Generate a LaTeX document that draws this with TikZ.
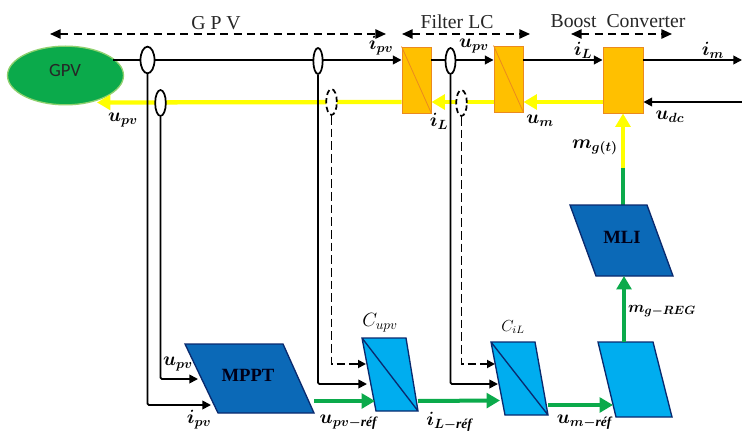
\documentclass[tikz,border=0pt]{standalone}
\usepackage{amsmath}
\usepackage{fontspec}
\setmainfont{Liberation Serif}
\newfontfamily\gpvfont{Carlito}
\usetikzlibrary{arrows.meta,shapes.geometric,calc}
\definecolor{orangeF}{HTML}{FFC000}
\definecolor{orangeD}{HTML}{EB8A1E}
\definecolor{blueD}{HTML}{0B69B7}
\definecolor{blueL}{HTML}{00ADEF}
\definecolor{navyE}{HTML}{0A2A6E}
\definecolor{greenF}{HTML}{0BAA4B}
\definecolor{greenL}{HTML}{8FD16F}
\definecolor{yellowF}{HTML}{FFFF00}
\newcommand{\refsub}{\textbf{\textit{réf}}}
\tikzset{
  orangebox/.style={draw=orangeD,fill=orangeF,line width=0.7pt,inner sep=0pt,minimum height=49.5pt},
  sensor/.style={ellipse,draw=black,fill=white,line width=1.3pt,inner sep=0pt,minimum width=8pt,minimum height=19.5pt},
  dashsensor/.style={sensor,dash pattern=on 4pt off 2.5pt},
  blk/.style={draw=black,line width=1.3pt,-{Triangle[length=6.5pt,width=6.5pt]}},
  blkdash/.style={draw=black,line width=1.4pt,dash pattern=on 6.5pt off 3pt,-{Triangle[length=6pt,width=6pt]}},
  span/.style={draw=black,line width=1.3pt,dash pattern=on 6pt off 4pt,{Triangle[length=8pt,width=7pt]}-{Triangle[length=8pt,width=7pt]}},
  yel/.style={draw=yellowF,line width=3.2pt,-{Triangle[length=10pt,width=11pt]}},
  grn/.style={draw=greenF,line width=3pt,-{Triangle[length=10pt,width=11pt]}},
  grnplain/.style={draw=greenF,line width=3pt},
  paraD/.style={draw=navyE,fill=blueD,line width=1pt,line join=miter},
  paraL/.style={draw=navyE,fill=blueL,line width=1pt,line join=miter},
  lab/.style={inner sep=0pt,font=\fontsize{14}{14}\selectfont\boldmath},
  reflab/.style={inner sep=0pt,font=\fontsize{14.5}{14.5}\selectfont\boldmath},
  title/.style={inner sep=0pt,font=\fontsize{14.8}{14.8}\selectfont,text=black!85},
  blocklab/.style={inner sep=0pt,font=\fontsize{14}{14}\selectfont\bfseries,text=black!90!blue},
}
\begin{document}
\begin{tikzpicture}[x=0.75pt,y=-0.75pt]
\useasboundingbox (0,0) rectangle (742,431);
\clip (0,0) rectangle (742,431);
% pins
\coordinate (topL) at (113,60);
\coordinate (topR) at (742,60);
\coordinate (busR) at (742,102);
\coordinate (yelEnd) at (97,102.5);
\coordinate (pinIpv) at (211,405);
\coordinate (pinUpv) at (198,379);
\coordinate (pinC1a) at (366,364);
\coordinate (pinC1b) at (367,384);
\coordinate (pinC2a) at (495,364);
\coordinate (pinC2b) at (498,384);
\coordinate (o1) at (314,401);
\coordinate (c1in) at (375,401);
\coordinate (c1out) at (418,401);
\coordinate (c2in) at (500,400.5);
\coordinate (c2out) at (548,405);
\coordinate (p3in) at (613,405);
\coordinate (p3top) at (624,342);
\coordinate (mliB) at (624,276);
\coordinate (mliT) at (623,205);
\coordinate (gy) at (623,168);
% GPV source
\node[ellipse,draw=greenL,fill=greenF,line width=1pt,inner sep=0pt,minimum width=87pt,minimum height=44pt] (gpv) at (65.5,75.5) {};
\node[inner sep=0pt,font=\gpvfont\fontsize{14}{14}\selectfont,text=black!85] (gpvt) at (65,71) {GPV};
% orange boxes
\node[orangebox,minimum width=21.75pt] (f1) at (416.5,80) {};
\node[orangebox,minimum width=21.75pt] (f2) at (508.5,79) {};
\node[orangebox,minimum width=30pt] (boost) at (623,80) {};
\draw[draw=orangeD,line width=0.6pt] (f1.north west) -- (f1.south east);
\draw[draw=orangeD,line width=0.6pt] (f2.north west) -- (f2.south east);
% yellow bus
\draw[yel] (boost.west |- 0,102) -- (f2.east |- 0,102);
\draw[yel] (f2.west |- 0,102) -- (f1.east |- 0,102);
\draw[yel] (f1.west |- 0,102) -- (yelEnd);
\draw[yel] (gy) -- (boost.south);
\draw[grnplain] (mliT) -- (gy);
% top power line
\draw[blk] (topL) -- (f1.west |- topL);
\draw[blk] (f1.east |- topL) -- (f2.west |- topL);
\draw[blk] (f2.east |- topL) -- (boost.west |- topL);
\draw[blk] (boost.east |- topL) -- (topR);
\draw[blk] (busR) -- (boost.east |- busR);
% sensors
\node[sensor,minimum width=10.5pt,minimum height=20pt] (s1) at (147.5,60) {};
\node[sensor] (s2) at (160.5,103) {};
\node[sensor,minimum width=7pt] (s3) at (318,61) {};
\node[dashsensor] (s4) at (331.5,102) {};
\node[sensor,minimum width=7.5pt] (s5) at (450.5,61) {};
\node[dashsensor] (s6) at (461.5,103) {};
% bottom blocks
\coordinate (mA) at (185,344); \coordinate (mB) at (283,344);
\coordinate (mC) at (314,413); \coordinate (mD) at (218,413);
\draw[paraD] (mA) -- (mB) -- (mC) -- (mD) -- cycle;
\node[blocklab] (mppt) at (248,375) {MPPT};
\coordinate (c1A) at (362,338); \coordinate (c1B) at (406,338);
\coordinate (c1C) at (418,411); \coordinate (c1D) at (376,411);
\draw[paraL] (c1A) -- (c1B) -- (c1C) -- (c1D) -- cycle (c1A) -- (c1C);
\coordinate (c2A) at (491,342); \coordinate (c2B) at (535,342);
\coordinate (c2C) at (548,415); \coordinate (c2D) at (505,415);
\draw[paraL] (c2A) -- (c2B) -- (c2C) -- (c2D) -- cycle (c2A) -- (c2C);
\coordinate (p3A) at (598,342); \coordinate (p3B) at (653,342);
\coordinate (p3C) at (672,417); \coordinate (p3D) at (616,417);
\draw[paraL] (p3A) -- (p3B) -- (p3C) -- (p3D) -- cycle;
\coordinate (lA) at (570,205); \coordinate (lB) at (647,205);
\coordinate (lC) at (673,276); \coordinate (lD) at (596,276);
\draw[paraD] (lA) -- (lB) -- (lC) -- (lD) -- cycle;
\node[blocklab] (mli) at (622,237) {MLI};
% sensor feeds
\draw[blk,rounded corners=1pt] (s1.south) |- (pinIpv);
\draw[blk,rounded corners=1pt] (s2.south) |- (pinUpv);
\draw[blk,rounded corners=1pt] (s3.south) |- (pinC1b);
\draw[blk,rounded corners=1pt] (s5.south) |- (pinC2b);
\draw[blkdash] (s4.south) |- (pinC1a);
\draw[blkdash] (s6.south) |- (pinC2a);
% green chain
\draw[grn] (o1) -- (c1in);
\draw[grn] (c1out) -- (c2in);
\draw[grn] (c2out) -- (p3in);
\draw[grn] (p3top) -- (mliB);
% span arrows
\coordinate (g1) at (50,34); \coordinate (g2) at (386,34);
\coordinate (f3) at (402,34); \coordinate (f4) at (530,34);
\coordinate (b1) at (571,34); \coordinate (b2) at (672,34);
\draw[span] (g1) -- (g2);
\draw[span] (f3) -- (f4);
\draw[span] (b1) -- (b2);
\node[title] (t1) at (216,23) {G P V};
\node[title] (t2) at (457,21.5) {Filter LC};
\node[title] (t3) at (618,21) {Boost\ \ Converter};
% labels
\node[lab] (l1) at (381,46) {$i_{pv}$};
\node[lab] (l2) at (474,46) {$u_{pv}$};
\node[lab] (l3) at (583,50) {$i_{L}$};
\node[lab] (l4) at (713,50) {$i_{m}$};
\node[lab] (l5) at (123,120) {$u_{pv}$};
\node[lab] (l6) at (439,121) {$i_{L}$};
\node[lab] (l7) at (540,121) {$u_{m}$};
\node[lab] (l8) at (670,117) {$u_{dc}$};
\node[lab] (l9) at (595,147) {$m_{g(t)}$};
\node[lab,font=\fontsize{13}{13}\selectfont\boldmath] (l10) at (662,311) {$m_{g-REG}$};
\node[inner sep=0pt,text=black,font=\fontsize{12}{12}\selectfont] (l11) at (513,327) {$C_{iL}$};
\node[inner sep=0pt,text=black,font=\fontsize{14}{14}\selectfont] (l12) at (380,323) {$C_{upv}$};
\node[lab] (l13) at (178,364) {$u_{pv}$};
\node[lab] (l14) at (199,420) {$i_{pv}$};
\node[reflab] (l15) at (349,422) {$u_{pv-\text{\refsub}}$};
\node[reflab] (l16) at (450,422) {$i_{L-\text{\refsub}}$};
\node[reflab] (l17) at (585,422) {$u_{m-\text{\refsub}}$};
\end{tikzpicture}
\end{document}
